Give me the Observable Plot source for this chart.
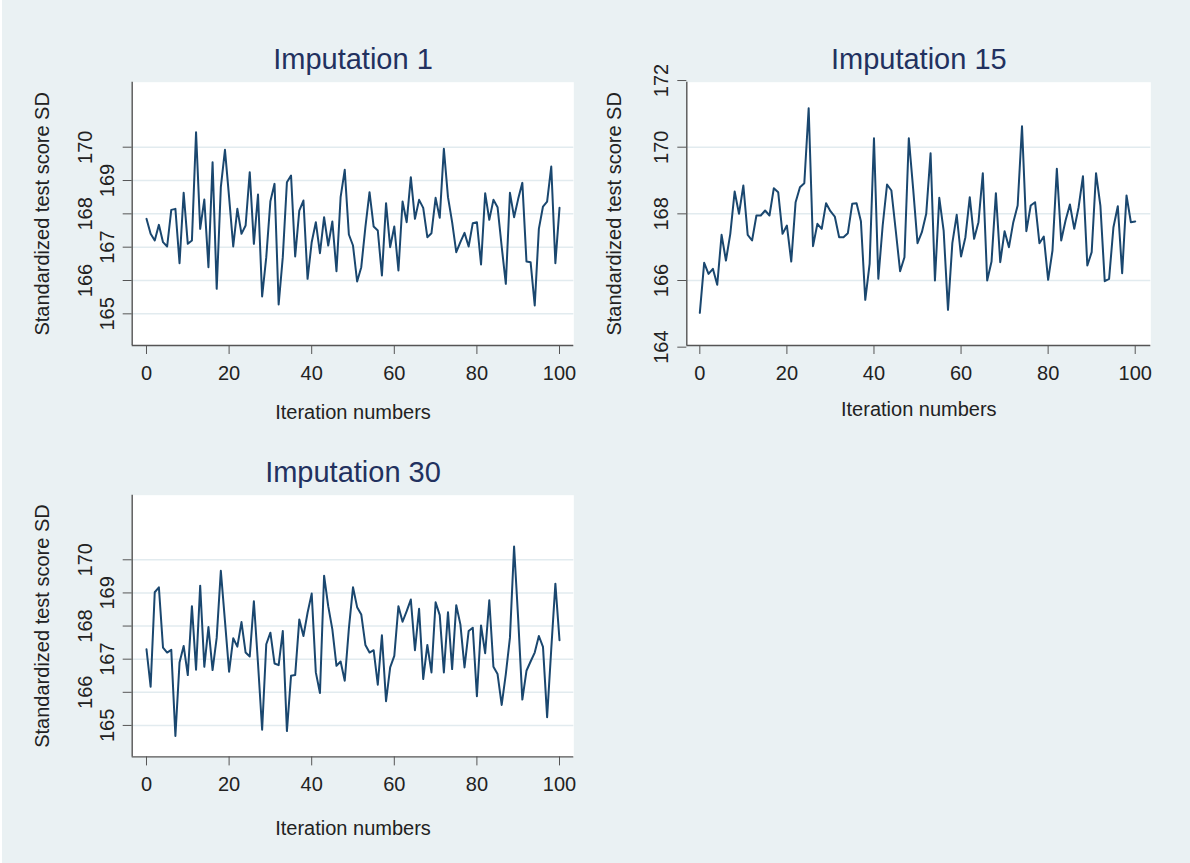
<!DOCTYPE html>
<html><head><meta charset="utf-8">
<script src="https://cdn.jsdelivr.net/npm/d3@7"></script>
<script src="https://cdn.jsdelivr.net/npm/@observablehq/plot@0.6"></script>
<style>
html,body{margin:0;padding:0;background:#eaf1f3;}
#chart{position:relative;width:1190px;height:863px;background:#eaf1f3;border-left:2px solid #fff;box-sizing:border-box;overflow:hidden}
#chart svg{position:absolute;}
</style></head><body><div id="chart"></div>
<script>
const iterations = Array.from({length: 101}, (_, i) => i);
const imp1 = [167.85,167.4,167.2,167.67,167.15,167.02,168.12,168.15,166.52,168.63,
167.1,167.2,170.45,167.55,168.43,166.4,169.55,165.75,168.8,169.92,
168.5,167.02,168.15,167.4,167.65,169.25,167.1,168.58,165.52,166.7,
168.38,168.9,165.28,166.7,168.95,169.15,166.72,168.1,168.4,166.05,
167.15,167.75,166.82,167.9,167.05,167.77,166.28,168.5,169.32,167.38,
167.05,165.97,166.4,167.6,168.65,167.62,167.5,166.15,168.32,167.0,
167.62,166.3,168.37,167.75,169.1,167.85,168.42,168.18,167.3,167.42,
168.48,167.88,169.95,168.5,167.75,166.85,167.15,167.43,167.02,167.72,
167.75,166.48,168.62,167.82,168.42,168.2,167.02,165.9,168.63,167.9,
168.45,168.93,166.57,166.55,165.25,167.55,168.22,168.37,169.42,166.52,168.18];
const imp15 = [165.03,166.53,166.2,166.35,165.87,167.37,166.6,167.4,168.67,168.0,
168.85,167.37,167.2,167.95,167.95,168.1,167.95,168.77,168.65,167.4,
167.65,166.57,168.35,168.8,168.92,171.17,167.03,167.7,167.55,168.32,
168.08,167.92,167.3,167.3,167.42,168.3,168.32,167.78,165.42,166.5,
170.27,166.05,167.65,168.88,168.7,167.5,166.28,166.7,170.27,168.75,
167.12,167.45,168.0,169.82,166.0,168.48,167.5,165.12,167.12,167.97,
166.72,167.3,168.5,167.25,167.75,169.22,166.0,166.57,168.62,166.55,
167.48,167.0,167.75,168.25,170.63,167.48,168.25,168.35,167.12,167.32,
166.02,166.9,169.35,167.2,167.8,168.28,167.55,168.2,169.13,166.45,
166.85,169.22,168.25,165.98,166.05,167.6,168.23,166.22,168.55,167.75,167.77];
const imp30 = [167.3,166.17,169.02,169.17,167.35,167.2,167.28,164.68,166.9,167.4,
166.52,168.6,166.68,169.22,166.77,167.97,166.67,167.65,169.67,168.15,
166.62,167.63,167.38,168.12,167.2,167.08,168.75,166.87,164.87,167.45,
167.8,166.87,166.82,167.85,164.83,166.5,166.52,168.2,167.7,168.4,
168.98,166.6,165.98,169.52,168.6,167.9,166.8,166.93,166.35,167.92,
169.17,168.57,168.35,167.43,167.2,167.27,166.23,167.72,165.73,166.75,
167.1,168.6,168.13,168.45,168.8,167.27,168.52,166.4,167.43,166.6,
168.72,168.33,166.6,168.42,166.7,168.63,168.05,166.75,167.85,167.95,
165.88,168.02,167.18,168.78,166.77,166.55,165.62,166.55,167.65,170.4,
168.2,165.78,166.65,166.93,167.2,167.7,167.37,165.25,167.3,169.28,167.57];

const titles = ["Imputation 1", "Imputation 15", "Imputation 30"];
const xTicks = [0, 20, 40, 60, 80, 100];
const yTicksA = [165, 166, 167, 168, 169, 170];
const yTicksB = [164, 166, 168, 170, 172];
const xLabel = "Iteration numbers";
const yLabel = "Standardized test score SD";

const LINE = "#1a476f", AXIS = "#555", TXT = "#222", TITLE = "#22315f", GRID = "#e2ebef";
const FONT = "'Liberation Sans', Arial, Helvetica, sans-serif";
const yDomain = [164.05, 171.95];

function panel(cfg) {
  const data = iterations.map((it, i) => ({it, v: cfg.values[i]}));
  const marks = [
    Plot.frame({fill: "white", stroke: "none"}),
    Plot.gridY(cfg.grid, {stroke: GRID, strokeOpacity: 1, strokeWidth: 1.5}),
    Plot.ruleX([cfg.xDomain[0]], {stroke: AXIS, strokeWidth: 1.4}),
    Plot.ruleY([yDomain[0]], {stroke: AXIS, strokeWidth: 1.4}),
    Plot.axisX(xTicks, {tickSize: 9, tickPadding: 11, color: TXT, stroke: AXIS, label: null}),
    Plot.axisY(cfg.yTicks, {tickSize: 9, tickFormat: () => "", stroke: AXIS, label: null}),
  ];
  for (const g of cfg.labelGroups) {
    marks.push(Plot.text(g.ticks, {y: d => d, text: d => String(d), frameAnchor: "left", rotate: -90,
      textAnchor: "middle", lineAnchor: "middle", dx: g.dx, fill: TXT}));
  }
  marks.push(
    Plot.line(data, {x: "it", y: "v", stroke: LINE, strokeWidth: 2}),
    Plot.text([cfg.title], {text: d => d, frameAnchor: "top", lineAnchor: "middle", dy: -22, fontSize: 29, fill: TITLE}),
    Plot.text([xLabel], {text: d => d, frameAnchor: "bottom", lineAnchor: "middle", dy: cfg.xLabelDy, fontSize: 20, fill: TXT}),
    Plot.text([yLabel], {text: d => d, frameAnchor: "left", rotate: -90, textAnchor: "middle", lineAnchor: "middle", dx: cfg.yLabelDx, fontSize: 20, fill: TXT})
  );
  const svg = Plot.plot({
    width: cfg.width, height: cfg.height,
    marginLeft: cfg.ml, marginRight: cfg.mr, marginTop: cfg.mt, marginBottom: cfg.mb,
    x: {domain: cfg.xDomain},
    y: {domain: yDomain},
    style: {fontFamily: FONT, fontSize: "20px", color: TXT, background: "transparent", overflow: "visible"},
    marks
  });
  svg.style.left = cfg.left + "px";
  svg.style.top = cfg.top + "px";
  svg.style.maxWidth = "none";
  document.getElementById("chart").appendChild(svg);
}

panel({values: imp1, title: titles[0], yTicks: yTicksA, grid: yTicksA,
  labelGroups: [{ticks: [166, 168, 170], dx: -46.4}, {ticks: [165, 167, 169], dx: -24.8}],
  left: -2, top: 0, width: 597, height: 440, ml: 131.7, mr: 23.7, mt: 81.7, mb: 95,
  xDomain: [-3.46, 103.46], yLabelDx: -90, xLabelDy: 66.9});
panel({values: imp15, title: titles[1], yTicks: yTicksB, grid: [166, 168, 170],
  labelGroups: [{ticks: yTicksB, dx: -25.7}],
  left: 588, top: 0, width: 600, height: 440, ml: 96.3, mr: 39.7, mt: 81.7, mb: 95,
  xDomain: [-2.99, 103.58], yLabelDx: -72, xLabelDy: 64});
panel({values: imp30, title: titles[2], yTicks: yTicksA, grid: yTicksA,
  labelGroups: [{ticks: [166, 168, 170], dx: -46.4}, {ticks: [165, 167, 169], dx: -24.8}],
  left: -2, top: 413.3, width: 597, height: 440, ml: 131.7, mr: 23.7, mt: 81.7, mb: 96.6,
  xDomain: [-3.46, 103.46], yLabelDx: -90, xLabelDy: 72});
</script></body></html>
